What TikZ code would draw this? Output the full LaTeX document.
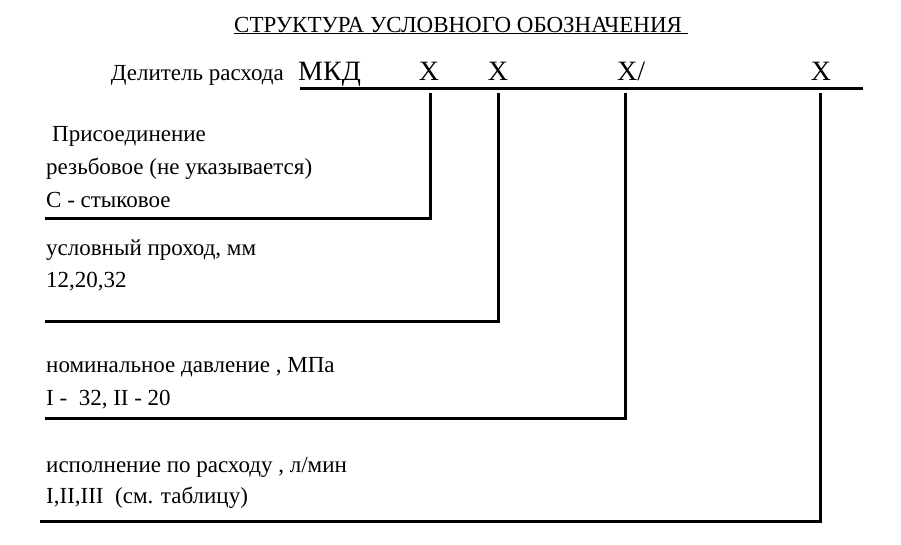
\documentclass[tikz,border=0pt]{standalone}
\usepackage{fontspec}
\setmainfont{Liberation Serif}

\tikzset{
  txt/.style={anchor=base west, inner sep=0pt, font=\fontsize{23}{27}\selectfont},
  code/.style={anchor=base, inner sep=0pt, font=\fontsize{28}{32}\selectfont},
  lead/.style={line width=3pt},
}

\begin{document}
\begin{tikzpicture}[x=1pt,y=-1pt]
    \useasboundingbox (0,0) rectangle (901,544);

    % Title
    \node[txt, anchor=base] (title) at (461,32) {\underline{СТРУКТУРА УСЛОВНОГО ОБОЗНАЧЕНИЯ\ }};

    % Designation line
    \node[txt, anchor=base east] (name) at (284,80) {Делитель расхода};
    \node[code, anchor=base west] (mkd) at (298,80) {МКД};
    \node[code] (xconn) at (429,80) {X};
    \node[code] (xdn) at (498,80) {X};
    \node[code, anchor=base west] (xpres) at (617,80) {X/};
    \node[code] (xflow) at (821,80) {X};
    \coordinate (ruleA) at (300,88);
    \coordinate (ruleB) at (863,88);
    \draw[lead] (ruleA) -- (ruleB);

    % Leads (from the code letters down and to the left)
    \foreach \k/\xx/\yy/\xl in {1/430/218/45, 2/498/321/45, 3/625/418/45, 4/820/521/40} {
        \coordinate (top\k) at (\xx,93);
        \coordinate (end\k) at (\xl,\yy);
        \draw[lead] (top\k) |- (end\k);
    }

    % Connection
    \node[txt] (conn1) at (52,141) {Присоединение};
    \node[txt] (conn2) at (46,174) {резьбовое (не указывается)};
    \node[txt] (conn3) at (46,207) {С - стыковое};

    % Nominal bore
    \node[txt] (dn1) at (46,255) {условный проход, мм};
    \node[txt] (dn2) at (46,287) {12,20,32};

    % Pressure
    \node[txt] (pres1) at (46,372) {номинальное давление , МПа};
    \node[txt] (pres2) at (46,405) {I -\ \ 32, II - 20};

    % Flow
    \node[txt] (flow1) at (46,472) {исполнение по расходу , л/мин};
    \node[txt] (flow2) at (46,503) {I,II,III\ \ (см. таблицу)};
\end{tikzpicture}
\end{document}
